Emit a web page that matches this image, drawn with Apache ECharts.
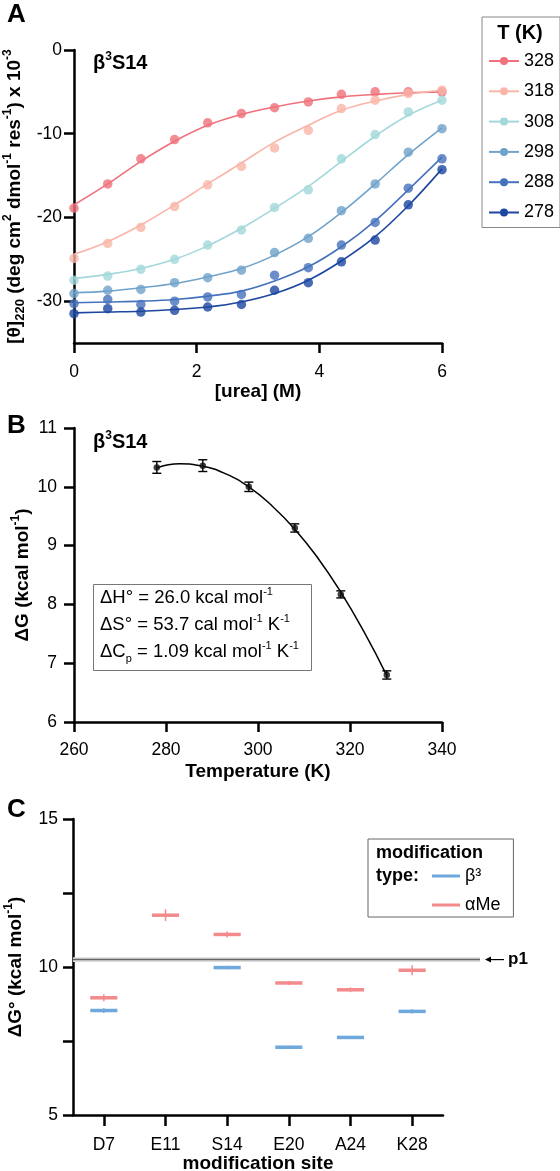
<!DOCTYPE html>
<html>
<head>
<meta charset="utf-8">
<title>b3S14 stability</title>
<script src="https://cdn.jsdelivr.net/npm/echarts@6/dist/echarts.min.js"></script>
<style>
  html, body { margin: 0; padding: 0; background: #fff; }
  #chart { width: 560px; height: 1171px; }
</style>
</head>
<body>
<div id="chart"></div>
<script>
// ---- panel A : urea melts at six temperatures
const ureaM = [0, 0.55, 1.09, 1.64, 2.18, 2.73, 3.27, 3.82, 4.36, 4.91, 5.45, 6.0];
const tempLabels = ['328', '318', '308', '298', '288', '278'];
const tempColors = ['#F0707B', '#F9B5A8', '#A3D8DA', '#6FA3CB', '#4672BD', '#1C46A0'];

const theta328 = [-18.9, -16.0, -13.0, -10.7, -8.7, -7.6, -6.9, -6.2, -5.3, -5.0, -5.0, -5.0];
const theta318 = [-24.9, -23.1, -21.2, -18.7, -16.1, -13.9, -11.7, -9.6, -7.0, -6.0, -5.2, -4.8];
const theta308 = [-27.5, -27.0, -26.2, -25.0, -23.3, -21.5, -18.8, -16.7, -13.0, -10.1, -7.4, -6.0];
const theta298 = [-29.1, -28.7, -28.6, -27.8, -27.2, -26.3, -24.2, -22.5, -19.2, -16.0, -12.2, -9.4];
const theta288 = [-30.3, -29.8, -30.4, -30.0, -29.5, -29.2, -26.9, -26.0, -23.3, -20.6, -16.5, -13.0];
const theta278 = [-31.5, -30.9, -31.3, -31.1, -30.7, -30.4, -28.7, -27.8, -25.3, -22.7, -18.5, -14.3];

// fitted curves, read at the same urea points
const fit328 = [-18.5, -16.0, -13.3, -10.9, -9.0, -7.7, -6.8, -6.1, -5.6, -5.3, -5.1, -5.0];
const fit318 = [-24.4, -22.9, -20.9, -18.5, -16.0, -13.5, -11.0, -9.0, -7.2, -6.1, -5.3, -4.8];
const fit308 = [-27.3, -26.8, -26.1, -25.0, -23.4, -21.3, -18.9, -16.3, -13.3, -10.3, -7.8, -6.0];
const fit298 = [-29.0, -28.8, -28.4, -27.9, -27.1, -26.1, -24.5, -22.3, -19.4, -16.0, -12.5, -9.3];
const fit288 = [-30.2, -30.1, -30.0, -29.8, -29.4, -28.8, -27.6, -25.9, -23.5, -20.4, -16.7, -12.8];
const fit278 = [-31.4, -31.3, -31.2, -31.0, -30.7, -30.1, -29.1, -27.5, -25.2, -22.3, -18.6, -14.2];

const yTicksA = [-30, -20, -10, 0];

// ---- panel B : stability curve
const tempB = [278, 288, 298, 308, 318, 328];
const dG = [10.33, 10.36, 10.0, 9.30, 8.17, 6.80];
const dGerr = [0.10, 0.10, 0.08, 0.07, 0.06, 0.07];
const fitTemp = [278, 283, 288, 293, 298, 303, 308, 313, 318, 323, 328];
const fitDG = [10.32, 10.39, 10.35, 10.22, 10.0, 9.68, 9.28, 8.79, 8.21, 7.54, 6.79];

// ---- panel C : per-site stabilities
const sites = ['D7', 'E11', 'S14', 'E20', 'A24', 'K28'];
const beta3 = [8.53, null, 9.98, 7.29, 7.62, 8.50];
const beta3Err = [0.08, null, 0.06, 0.05, 0.05, 0.07];
const aMe = [8.96, 11.75, 11.10, 9.46, 9.23, 9.89];
const aMeErr = [0.12, 0.20, 0.10, 0.07, 0.08, 0.17];
const p1Value = 10.25;
const p1Band = 0.08;
const yTicksC = [5, 7.5, 10, 12.5, 15];
const yLabelsC = [5, 10, 15];

const FONT = '"Liberation Sans", Arial, Helvetica, sans-serif';
const BLUE = '#6FA8DC';
const RED = '#F38A8C';

const chart = echarts.init(document.getElementById('chart'), null, { renderer: 'canvas' });

const axisLine = { show: true, onZero: false, lineStyle: { color: '#000', width: 2.5 } };
const axisTick = { show: true, inside: false, length: 10, lineStyle: { color: '#000', width: 2.5 } };
const tickLabel = { color: '#000', fontFamily: FONT, fontSize: 17.5 };
const richParts = {
  sup: { fontFamily: FONT, fontSize: 12, fontWeight: 'bold', color: '#000', lineHeight: 12, verticalAlign: 'top' },
  sub: { fontFamily: FONT, fontSize: 13, fontWeight: 'bold', color: '#000', lineHeight: 13, verticalAlign: 'bottom' }
};
const nameStyle = { color: '#000', fontFamily: FONT, fontSize: 19, fontWeight: 'bold', lineHeight: 25, rich: richParts };

const richPlain = {
  sup: { fontFamily: FONT, fontSize: 11, fill: '#000', lineHeight: 11, verticalAlign: 'top' },
  sub: { fontFamily: FONT, fontSize: 11, fill: '#000', lineHeight: 11, verticalAlign: 'bottom' },
  n: { fontFamily: FONT, fontSize: 18.5, fill: '#000', lineHeight: 24 }
};

const fitsA = [fit328, fit318, fit308, fit298, fit288, fit278];
const pointsA = [theta328, theta318, theta308, theta298, theta288, theta278];

const series = [];
tempLabels.forEach((t, i) => {
  series.push({
    type: 'line', name: t, xAxisIndex: 0, yAxisIndex: 0,
    data: ureaM.map((x, j) => [x, fitsA[i][j]]),
    smooth: 0.4, symbol: 'circle', showSymbol: false,
    lineStyle: { color: tempColors[i], width: 1.6 },
    itemStyle: { color: tempColors[i] },
    silent: true, z: 2
  });
});
tempLabels.forEach((t, i) => {
  series.push({
    type: 'scatter', name: t + ' K obs', xAxisIndex: 0, yAxisIndex: 0,
    data: ureaM.map((x, j) => [x, pointsA[i][j]]),
    symbolSize: 9.5,
    itemStyle: { color: tempColors[i] },
    silent: true, z: 3
  });
});

// panel B
series.push({
  type: 'line', name: 'fit', xAxisIndex: 1, yAxisIndex: 1,
  data: fitTemp.map((t, i) => [t, fitDG[i]]),
  smooth: 0.5, showSymbol: false,
  lineStyle: { color: '#000', width: 1.5 }, silent: true
});
series.push({
  type: 'custom', name: 'dG err', xAxisIndex: 1, yAxisIndex: 1,
  data: tempB.map((t, i) => [t, dG[i], dGerr[i]]),
  encode: { x: 0, y: 1 },
  renderItem(params, api) {
    const x = api.value(0), y = api.value(1), e = api.value(2);
    const hi = api.coord([x, y + e]);
    const lo = api.coord([x, y - e]);
    const st = { stroke: '#000', lineWidth: 1.4 };
    return {
      type: 'group', children: [
        { type: 'line', shape: { x1: hi[0], y1: hi[1], x2: lo[0], y2: lo[1] }, style: st },
        { type: 'line', shape: { x1: hi[0] - 4.5, y1: hi[1], x2: hi[0] + 4.5, y2: hi[1] }, style: st },
        { type: 'line', shape: { x1: lo[0] - 4.5, y1: lo[1], x2: lo[0] + 4.5, y2: lo[1] }, style: st }
      ]
    };
  },
  silent: true
});
series.push({
  type: 'scatter', name: 'dG', xAxisIndex: 1, yAxisIndex: 1,
  data: tempB.map((t, i) => [t, dG[i]]),
  symbolSize: 6.5, itemStyle: { color: '#111' }, silent: true, z: 4
});

// panel C
function siteBars(values, errs) {
  const out = [];
  values.forEach((v, i) => { if (v != null) out.push([i, v, errs[i]]); });
  return out;
}
function barRender(color) {
  return function (params, api) {
    const x = api.value(0), y = api.value(1), e = api.value(2);
    const c = api.coord([x, y]);
    const hi = api.coord([x, y + e]);
    const lo = api.coord([x, y - e]);
    const half = api.size([1, 0])[0] * 0.22;
    return {
      type: 'group', children: [
        { type: 'line', shape: { x1: c[0] - half, y1: c[1], x2: c[0] + half, y2: c[1] }, style: { stroke: color, lineWidth: 3.5 } },
        { type: 'line', shape: { x1: hi[0], y1: hi[1], x2: lo[0], y2: lo[1] }, style: { stroke: color, lineWidth: 1.5 } }
      ]
    };
  };
}
series.push({
  type: 'custom', name: 'p1', xAxisIndex: 2, yAxisIndex: 2,
  data: [[0, p1Value, p1Band]],
  encode: { x: 0, y: 1 },
  renderItem(params, api) {
    const v = api.value(1), b = api.value(2);
    const left = params.coordSys.x;
    const band = api.size([1, 0])[0];
    const right = api.coord([sites.length - 1, v])[0] + band * 1.1;
    const y = api.coord([0, v])[1];
    const yHi = api.coord([0, v + b])[1];
    const yLo = api.coord([0, v - b])[1];
    return {
      type: 'group', children: [
        { type: 'rect', shape: { x: left, y: yHi, width: right - left, height: yLo - yHi }, style: { fill: '#DCDCDC' } },
        { type: 'line', shape: { x1: left, y1: y, x2: right, y2: y }, style: { stroke: '#666', lineWidth: 1.5 } },
        { type: 'line', shape: { x1: right + 7, y1: y, x2: right + 24, y2: y }, style: { stroke: '#000', lineWidth: 1.2 } },
        { type: 'polygon', shape: { points: [[right + 5, y], [right + 11, y - 3], [right + 11, y + 3]] }, style: { fill: '#000' } },
        { type: 'text', x: right + 28, y: y, style: { text: 'p1', fontFamily: FONT, fontSize: 17, fontWeight: 'bold', fill: '#000', verticalAlign: 'middle', align: 'left' } }
      ]
    };
  },
  silent: true, z: 1
});
series.push({
  type: 'custom', name: 'β³', xAxisIndex: 2, yAxisIndex: 2,
  data: siteBars(beta3, beta3Err), encode: { x: 0, y: 1 },
  itemStyle: { color: BLUE }, renderItem: barRender(BLUE), silent: true, z: 3
});
series.push({
  type: 'custom', name: 'αMe', xAxisIndex: 2, yAxisIndex: 2,
  data: siteBars(aMe, aMeErr), encode: { x: 0, y: 1 },
  itemStyle: { color: RED }, renderItem: barRender(RED), silent: true, z: 3
});

function txt(x, y, text, extra) {
  return {
    type: 'text', x: x, y: y, silent: true,
    style: Object.assign({ text: text, fontFamily: FONT, fontSize: 18, fill: '#000', align: 'left', verticalAlign: 'middle' }, extra || {})
  };
}
const titleRich = {
  sup: { fontFamily: FONT, fontSize: 12, fontWeight: 'bold', fill: '#000', lineHeight: 12, verticalAlign: 'top' },
  b: { fontFamily: FONT, fontSize: 20, fontWeight: 'bold', fill: '#000', lineHeight: 24 }
};

const option = {
  animation: false,
  backgroundColor: '#fff',
  textStyle: { fontFamily: FONT },
  grid: [
    { left: 74, top: 50, width: 368, height: 293, outerBoundsMode: 'none' },
    { left: 74, top: 428, width: 368, height: 294, outerBoundsMode: 'none' },
    { left: 73, top: 819, width: 370, height: 296, outerBoundsMode: 'none' }
  ],
  xAxis: [
    {
      gridIndex: 0, type: 'value', min: 0, max: 6, interval: 2,
      axisLine, axisTick, splitLine: { show: false },
      axisLabel: Object.assign({ margin: 20 }, tickLabel),
      name: '[urea] (M)', nameLocation: 'middle', nameGap: 36.5, nameMoveOverlap: false, nameTextStyle: nameStyle
    },
    {
      gridIndex: 1, type: 'value', min: 260, max: 340, interval: 20,
      axisLine, axisTick, splitLine: { show: false },
      axisLabel: Object.assign({ margin: 19 }, tickLabel),
      name: 'Temperature (K)', nameLocation: 'middle', nameGap: 37.5, nameMoveOverlap: false, nameTextStyle: nameStyle
    },
    {
      gridIndex: 2, type: 'category', data: sites, boundaryGap: true,
      axisLine, axisTick: Object.assign({}, axisTick, { alignWithLabel: true, length: 11 }), splitLine: { show: false },
      axisLabel: Object.assign({ margin: 21, interval: 0 }, tickLabel),
      name: 'modification site', nameLocation: 'middle', nameGap: 36, nameMoveOverlap: false, nameTextStyle: nameStyle
    }
  ],
  yAxis: [
    {
      gridIndex: 0, type: 'value', min: -35, max: 0, interval: 5,
      axisLine, splitLine: { show: false },
      axisTick: Object.assign({ customValues: yTicksA }, axisTick),
      axisLabel: Object.assign({ margin: 12, customValues: yTicksA }, tickLabel),
      name: '[θ]{sub|220} (deg cm{sup|2} dmol{sup|-1} res{sup|-1}) x 10{sup|-3}',
      nameLocation: 'middle', nameRotate: 90, nameGap: 47, nameMoveOverlap: false, nameTextStyle: nameStyle
    },
    {
      gridIndex: 1, type: 'value', min: 6, max: 11, interval: 1,
      axisLine, axisTick, splitLine: { show: false },
      axisLabel: Object.assign({ margin: 17 }, tickLabel),
      name: 'ΔG (kcal mol{sup|-1})',
      nameLocation: 'middle', nameRotate: 90, nameGap: 39, nameMoveOverlap: false, nameTextStyle: nameStyle
    },
    {
      gridIndex: 2, type: 'value', min: 5, max: 15, interval: 2.5,
      axisLine, splitLine: { show: false },
      axisTick: Object.assign({ customValues: yTicksC }, axisTick),
      axisLabel: Object.assign({ margin: 15, customValues: yLabelsC }, tickLabel),
      name: 'ΔG° (kcal mol{sup|-1})',
      nameLocation: 'middle', nameRotate: 90, nameGap: 45, nameMoveOverlap: false, nameTextStyle: nameStyle
    }
  ],
  legend: [
    {
      left: 482, top: 17, orient: 'vertical', data: tempLabels,
      itemWidth: 30, itemHeight: 10, itemGap: 12.3, padding: [35, 6, 6, 6],
      borderColor: '#888', borderWidth: 1, selectedMode: false,
      textStyle: Object.assign({}, tickLabel, { fontSize: 18 })
    },
    {
      left: 368, top: 839, orient: 'vertical',
      data: [{ name: 'β³', icon: 'rect' }, { name: 'αMe', icon: 'rect' }],
      itemWidth: 28, itemHeight: 3, itemGap: 11, padding: [28, 13, 3, 64],
      borderColor: '#666', borderWidth: 1, selectedMode: false,
      textStyle: Object.assign({}, tickLabel, { fontSize: 18 })
    }
  ],
  graphic: [
    txt(7, 15, 'A', { fontSize: 26, fontWeight: 'bold' }),
    txt(7, 426, 'B', { fontSize: 26, fontWeight: 'bold' }),
    txt(7, 810, 'C', { fontSize: 26, fontWeight: 'bold' }),
    txt(93, 63, '{b|β}{sup|3}{b|S14}', { rich: titleRich }),
    txt(93, 442, '{b|β}{sup|3}{b|S14}', { rich: titleRich }),
    txt(520, 33, 'T (K)', { fontWeight: 'bold', fontSize: 20, align: 'center' }),
    {
      type: 'rect', silent: true,
      shape: { x: 93.5, y: 584.5, width: 218, height: 86 },
      style: { fill: '#fff', stroke: '#777', lineWidth: 1 }
    },
    txt(100, 598, '{n|ΔH° = 26.0 kcal mol}{sup|-1}', { rich: richPlain }),
    txt(100, 625, '{n|ΔS° = 53.7 cal mol}{sup|-1}{n| K}{sup|-1}', { rich: richPlain }),
    txt(100, 652, '{n|ΔC}{sub|p}{n| = 1.09 kcal mol}{sup|-1}{n| K}{sup|-1}', { rich: richPlain }),
    txt(376, 853, 'modification', { fontWeight: 'bold' }),
    txt(376, 876, 'type:', { fontWeight: 'bold' })
  ],
  series: series
};

chart.setOption(option);
window.addEventListener('resize', chart.resize);
</script>
</body>
</html>
